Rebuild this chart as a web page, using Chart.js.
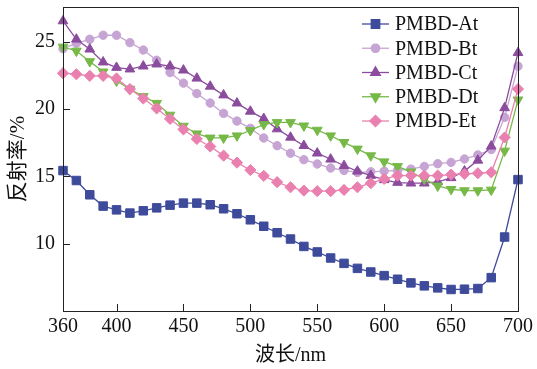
<!DOCTYPE html>
<html><head><meta charset="utf-8">
<script src="https://cdn.jsdelivr.net/npm/chart.js@4.4.1/dist/chart.umd.min.js"></script>
<style>html,body{margin:0;padding:0;background:#fff}canvas{display:block}</style>
</head><body>
<canvas id="c" width="537" height="369"></canvas>
<script>
// ---- data ----
const wavelengths = [360,370,380,390,400,410,420,430,440,450,460,470,480,490,500,510,520,530,540,550,560,570,580,590,600,610,620,630,640,650,660,670,680,690,700];
const pmbdAt = [15.44,14.7,13.64,12.8,12.52,12.28,12.45,12.67,12.87,13.02,13.02,12.9,12.6,12.23,11.78,11.3,10.82,10.35,9.8,9.39,8.94,8.54,8.17,7.9,7.63,7.36,7.09,6.87,6.72,6.6,6.62,6.67,7.48,10.5,14.77];
const pmbdBt = [24.5,24.9,25.2,25.5,25.5,24.95,24.4,23.64,22.73,21.94,21.17,20.46,19.69,19.12,18.58,17.86,17.29,16.73,16.25,15.93,15.63,15.45,15.3,15.35,15.4,15.45,15.55,15.75,15.95,16.05,16.3,16.6,17.0,19.4,23.2];
const pmbdCt = [26.56,25.2,24.46,23.5,23.1,22.98,23.2,23.35,23.2,22.9,22.3,21.7,21.05,20.45,19.84,19.3,18.53,17.91,17.29,16.73,16.28,15.8,15.39,15.07,14.75,14.55,14.5,14.5,14.6,14.9,15.4,16.2,17.25,20.1,24.2];
const pmbdDt = [24.63,24.33,23.55,22.78,22.1,21.5,20.95,20.45,19.57,18.75,18.18,17.87,17.87,18.03,18.42,18.87,19.02,19.02,18.77,18.45,18.03,17.54,17.05,16.55,16.1,15.75,15.35,14.8,14.3,14.05,13.95,13.95,14.0,16.9,20.7];
const pmbdEt = [22.68,22.6,22.48,22.48,22.29,21.5,20.8,20.06,19.28,18.5,17.79,17.23,16.55,16.03,15.48,15.05,14.58,14.2,13.95,13.91,13.91,14.0,14.2,14.5,14.82,15.07,15.07,15.07,15.07,15.14,15.19,15.24,15.31,17.9,21.5];
const seriesNames = ['PMBD-At','PMBD-Bt','PMBD-Ct','PMBD-Dt','PMBD-Et'];
const xTickValues = [360,400,450,500,550,600,650,700];
const yTickValues = [10,15,20,25];

// ---- styling ----
const serif = "'Liberation Serif','Times New Roman','Noto Sans CJK SC',serif";
const styles = [
  {color:'#3E4B9B', pointStyle:'rect', radius:6, rotation:0},
  {color:'#C6A4D3', pointStyle:'circle', radius:4.2, rotation:0},
  {color:'#8C4C9E', pointStyle:'triangle', radius:5.6, rotation:0},
  {color:'#76B947', pointStyle:'triangle', radius:5.6, rotation:180},
  {color:'#EA80AF', pointStyle:'rectRot', radius:5.6, rotation:0}
];
const seriesValues = [pmbdAt,pmbdBt,pmbdCt,pmbdDt,pmbdEt];

const datasets = seriesValues.map((vals,i)=>({
  label: seriesNames[i],
  data: wavelengths.map((w,j)=>({x:w,y:vals[j]})),
  borderColor: styles[i].color,
  backgroundColor: styles[i].color,
  pointBackgroundColor: styles[i].color,
  pointBorderColor: styles[i].color,
  pointBorderWidth: 1,
  borderWidth: 1.3,
  pointStyle: styles[i].pointStyle,
  pointRadius: styles[i].radius,
  pointRotation: styles[i].rotation,
  tension: 0,
  clip: false,
  order: 4 - i
}));

function zeroPad(s){ s.paddingTop = 0; s.paddingBottom = 0; s.paddingLeft = 0; s.paddingRight = 0; }

const framePlugin = {
  id: 'frame',
  afterDraw(chart){
    const {ctx, chartArea:a, scales} = chart;
    ctx.save();
    ctx.strokeStyle = '#222';
    ctx.lineWidth = 1;
    ctx.strokeRect(Math.round(a.left)+0.5, Math.round(a.top)+0.5, Math.round(a.right-a.left), Math.round(a.bottom-a.top));
    // inward tick marks
    ctx.beginPath();
    scales.x.ticks.forEach(t=>{
      const px = Math.round(scales.x.getPixelForValue(t.value))+0.5;
      ctx.moveTo(px, a.bottom); ctx.lineTo(px, a.bottom-7);
    });
    scales.y.ticks.forEach(t=>{
      const py = Math.round(scales.y.getPixelForValue(t.value))+0.5;
      ctx.moveTo(a.left, py); ctx.lineTo(a.left+7, py);
    });
    ctx.stroke();
    // legend (line + marker + text)
    const lx = a.right - 156, tx = a.right - 123;
    chart.data.datasets.forEach((ds,i)=>{
      const y = a.top + 17 + i*24.25;
      ctx.strokeStyle = ds.borderColor;
      ctx.lineWidth = ds.borderWidth;
      ctx.beginPath(); ctx.moveTo(lx, y); ctx.lineTo(lx+27, y); ctx.stroke();
      ctx.fillStyle = ds.pointBackgroundColor;
      ctx.strokeStyle = ds.pointBorderColor;
      Chart.helpers.drawPoint(ctx, {pointStyle: ds.pointStyle, rotation: ds.pointRotation, radius: ds.pointRadius, borderWidth: 1}, lx+13.5, y);
      ctx.fillStyle = '#111';
      ctx.font = '20px ' + serif;
      ctx.textBaseline = 'middle';
      ctx.textAlign = 'left';
      ctx.fillText(ds.label, tx, y+1);
    });
    ctx.restore();
  }
};

new Chart(document.getElementById('c'), {
  type: 'line',
  data: { datasets },
  options: {
    responsive: false,
    devicePixelRatio: 1,
    animation: false,
    layout: { padding: { left: 0, right: 19, top: 7, bottom: 0 } },
    plugins: { legend: { display: false }, tooltip: { enabled: false } },
    scales: {
      x: {
        type: 'linear', min: 360, max: 700,
        grid: { display: false, drawTicks: false },
        border: { display: false },
        afterBuildTicks: s => { s.ticks = xTickValues.map(v=>({value:v})); },
        afterFit: s => { s.height = 58; zeroPad(s); },
        ticks: { color: '#111', font: { family: serif, size: 20 }, padding: 4, maxRotation: 0 },
        title: { display: true, text: '波长/nm', color: '#111', font: { family: serif, size: 20 }, padding: { top: 0, bottom: 1 } }
      },
      y: {
        type: 'linear', min: 5, max: 27.6,
        grid: { display: false, drawTicks: false },
        border: { display: false },
        afterBuildTicks: s => { s.ticks = yTickValues.map(v=>({value:v})); },
        afterFit: s => { s.width = 63; zeroPad(s); },
        ticks: { color: '#111', font: { family: serif, size: 20 }, padding: 8 },
        title: { display: true, text: '反射率/%', color: '#111', font: { family: serif, size: 21 }, padding: { top: 6, bottom: 0 } }
      }
    }
  },
  plugins: [framePlugin]
});
</script>
</body></html>
